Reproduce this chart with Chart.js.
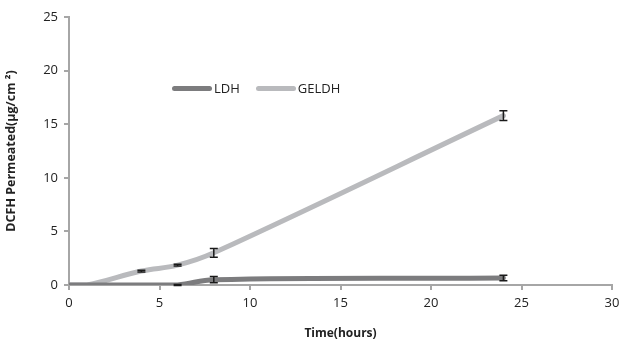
<!DOCTYPE html>
<html>
<head>
<meta charset="utf-8">
<script src="https://cdn.jsdelivr.net/npm/chart.js@4.4.1/dist/chart.umd.min.js"></script>
<style>
  html, body { margin: 0; padding: 0; background: #fff; }
  #wrap { position: relative; width: 619px; height: 345px; }
  #legend {
    position: absolute; left: 172px; top: 79px;
    font: 13px 'Open Sans', sans-serif; color: #222;
    display: flex; align-items: center;
  }
  #legend .key { display: inline-block; width: 40px; height: 5px; border-radius: 3px; margin-right: 2px; }
  #legend .item { display: flex; align-items: center; margin-right: 16px; }
</style>
</head>
<body>
<div id="wrap">
  <canvas id="permChart" width="619" height="345"></canvas>
  <div id="legend">
    <span class="item"><span class="key" style="background:#7c7c7e"></span>LDH</span>
    <span class="item"><span class="key" style="background:#b9babd"></span>GELDH</span>
  </div>
</div>
<script>
/* ── Data ─────────────────────────────────────────────── */
const times     = [0, 1, 4, 6, 8, 24];
const ldh       = [0, 0, 0, 0, 0.5, 0.65];
const ldhErr    = [0, 0, 0, 0.05, 0.3, 0.25];
const geldh     = [0, 0, 1.3, 1.85, 3.0, 15.8];
const geldhErr  = [0, 0, 0.08, 0.08, 0.4, 0.45];
const xTicks    = [0, 5, 10, 15, 20, 25, 30];
const yTicks    = [0, 5, 10, 15, 20, 25];

const DARK  = '#7c7c7e';
const LIGHT = '#b9babd';
const AXIS  = '#a6a6a6';
const FONT  = "'Open Sans', sans-serif";

const toPoints = (ys) => times.map((t, i) => ({ x: t, y: ys[i] }));

/* ── Error bars (vertical, capped) ────────────────────── */
const errorBars = {
  id: 'errorBars',
  afterDatasetsDraw(chart) {
    const { ctx, scales: { x, y } } = chart;
    ctx.save();
    ctx.strokeStyle = '#1a1a1a';
    ctx.lineWidth = 1.5;
    chart.data.datasets.forEach(ds => {
      ds.errors.forEach((e, i) => {
        if (!e) return;
        const px = x.getPixelForValue(times[i]);
        const hi = y.getPixelForValue(ds.data[i].y + e);
        const lo = y.getPixelForValue(ds.data[i].y - e);
        ctx.beginPath();
        ctx.moveTo(px, hi); ctx.lineTo(px, lo);
        ctx.moveTo(px - 4, hi); ctx.lineTo(px + 4, hi);
        ctx.moveTo(px - 4, lo); ctx.lineTo(px + 4, lo);
        ctx.stroke();
      });
    });
    ctx.restore();
  }
};

new Chart(document.getElementById('permChart'), {
  type: 'line',
  data: {
    datasets: [
      { label: 'LDH', data: toPoints(ldh), errors: ldhErr, borderColor: DARK, borderWidth: 5 },
      { label: 'GELDH', data: toPoints(geldh), errors: geldhErr, borderColor: LIGHT, borderWidth: 5 }
    ]
  },
  options: {
    responsive: false,
    animation: false,
    layout: { padding: { top: 17, right: 0, left: 0, bottom: 0 } },
    elements: {
      line: { tension: 0.4, fill: false, borderCapStyle: 'round' },
      point: { radius: 0 }
    },
    plugins: { legend: { display: false }, tooltip: { enabled: false } },
    scales: {
      x: {
        type: 'linear', min: 0, max: 30,
        afterBuildTicks: s => { s.ticks = xTicks.map(v => ({ value: v })); },
        // let the "30" label hang a little past the canvas edge budget
        afterFit: s => { s.height = 60; s.paddingRight = 7; },
        grid: { drawOnChartArea: false, color: AXIS, tickLength: 5, lineWidth: 2 },
        border: { color: AXIS, width: 2 },
        ticks: { color: '#222', font: { family: FONT, size: 13 }, padding: 5, maxRotation: 0 },
        title: { display: true, text: 'Time(hours)', color: '#222', font: { family: FONT, size: 12, weight: 'bold' }, padding: { top: 4 } }
      },
      y: {
        min: 0, max: 25,
        afterBuildTicks: s => { s.ticks = yTicks.map(v => ({ value: v })); },
        afterFit: s => { s.width = 69; },
        grid: { drawOnChartArea: false, color: AXIS, tickLength: 5, lineWidth: 2 },
        border: { color: AXIS, width: 2 },
        ticks: { color: '#222', font: { family: FONT, size: 13 }, padding: 6 },
        title: { display: true, text: 'DCFH Permeated(μg/cm ²)', color: '#222', font: { family: FONT, size: 12.5, weight: 'bold' }, padding: { bottom: 2 } }
      }
    }
  },
  plugins: [errorBars]
});
</script>
</body>
</html>
